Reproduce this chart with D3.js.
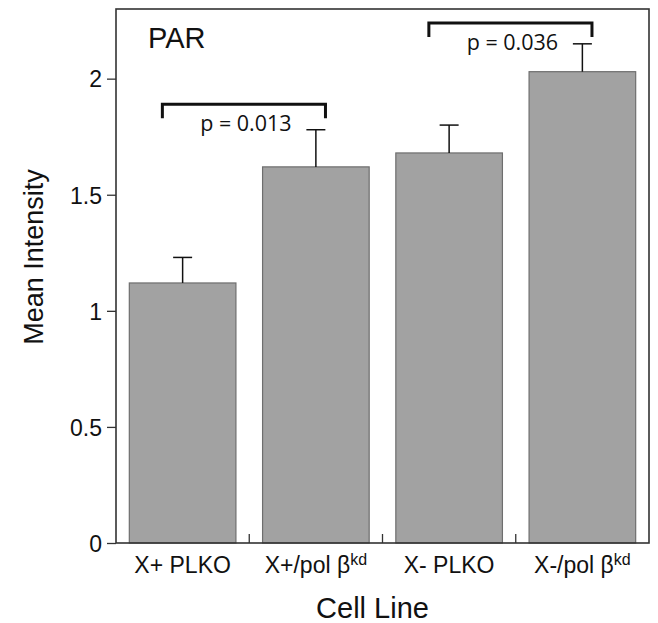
<!DOCTYPE html>
<html>
<head>
<meta charset="utf-8">
<script src="https://cdn.jsdelivr.net/npm/d3@7/dist/d3.min.js"></script>
<style>
  body { margin: 0; background: #fff; }
  svg { display: block; }
</style>
</head>
<body>
<svg id="chart" width="658" height="623"></svg>
<script>
// values
var cellLines = ["X+ PLKO", "X+/pol β", "X- PLKO", "X-/pol β"]
var superscripts = ["", "kd", "", "kd"]
var meanIntensity = [1.12, 1.62, 1.68, 2.03]
var errorTop = [1.23, 1.78, 1.80, 2.15]
var yTicks = [0, 0.5, 1, 1.5, 2]
// significance brackets: from bar, to bar, bracket level, label
var comparisons = [
  {from: 0, to: 1, level: 1.89, label: "p = 0.013"},
  {from: 2, to: 3, level: 2.24, label: "p = 0.036"}
]

var margin = {top: 9, right: 9, bottom: 80, left: 116}
var width = 658 - margin.left - margin.right
var height = 623 - margin.top - margin.bottom

var svg = d3.select("#chart")
var g = svg.append("g")
    .attr("transform", "translate(" + margin.left + "," + margin.top + ")")

var x = d3.scaleBand()
    .domain(cellLines)
    .range([0, width])
    .paddingInner(0.2)
    .paddingOuter(0.1)

var y = d3.scaleLinear()
    .domain([0, 2.3])
    .range([height, 0])

var font = "Liberation Sans, Arial, Helvetica, sans-serif"

/* bars */
g.selectAll(".bar")
    .data(meanIntensity)
  .enter().append("rect")
    .attr("class", "bar")
    .attr("x", function(d, i) { return x(cellLines[i]) })
    .attr("y", function(d) { return y(d) })
    .attr("width", x.bandwidth())
    .attr("height", function(d) { return y(0) - y(d) })
    .attr("fill", "#a2a2a2")
    .attr("stroke", "#6e6e6e")
    .attr("stroke-width", 1.2)

/* error bars (upper only) */
var err = g.selectAll(".err")
    .data(errorTop)
  .enter().append("g")
    .attr("class", "err")
    .attr("stroke", "#111")
    .attr("stroke-width", 1.5)
err.append("line")
    .attr("x1", function(d, i) { return x(cellLines[i]) + x.bandwidth() / 2 })
    .attr("x2", function(d, i) { return x(cellLines[i]) + x.bandwidth() / 2 })
    .attr("y1", function(d, i) { return y(meanIntensity[i]) })
    .attr("y2", function(d) { return y(d) })
err.append("line")
    .attr("x1", function(d, i) { return x(cellLines[i]) + x.bandwidth() / 2 - 9.5 })
    .attr("x2", function(d, i) { return x(cellLines[i]) + x.bandwidth() / 2 + 9.5 })
    .attr("y1", function(d) { return y(d) })
    .attr("y2", function(d) { return y(d) })

/* y axis */
var yAxis = d3.axisLeft(y)
    .tickValues(yTicks)
    .tickFormat(d3.format("~g"))
    .tickSize(9)
    .tickPadding(5)
var ya = g.append("g").call(yAxis)
ya.select(".domain").remove()
ya.selectAll(".tick line").attr("stroke", "#333").attr("stroke-width", 1.3)
ya.selectAll(".tick text")
    .attr("font-family", font)
    .attr("font-size", 23)
    .attr("fill", "#111")
    .attr("dy", "0.36em")

/* inner ticks between bars on the x axis */
g.selectAll(".xtick")
    .data(cellLines.slice(1))
  .enter().append("line")
    .attr("class", "xtick")
    .attr("x1", function(d) { return x(d) - x.step() * x.paddingInner() / 2 })
    .attr("x2", function(d) { return x(d) - x.step() * x.paddingInner() / 2 })
    .attr("y1", height)
    .attr("y2", height - 9)
    .attr("stroke", "#333")
    .attr("stroke-width", 1.3)

/* frame */
g.append("rect")
    .attr("width", width)
    .attr("height", height)
    .attr("fill", "none")
    .attr("stroke", "#333")
    .attr("stroke-width", 1.6)

/* x tick labels */
var xl = g.selectAll(".xlabel")
    .data(cellLines)
  .enter().append("text")
    .attr("class", "xlabel")
    .attr("x", function(d) { return x(d) + x.bandwidth() / 2 })
    .attr("y", height + 30)
    .attr("text-anchor", "middle")
    .attr("font-family", font)
    .attr("font-size", 23)
    .attr("fill", "#111")
xl.append("tspan").text(function(d) { return d })
xl.append("tspan")
    .attr("font-size", 16)
    .attr("dy", -8)
    .text(function(d, i) { return superscripts[i] })

/* axis titles */
g.append("text")
    .attr("x", width / 2 - 10)
    .attr("y", height + 75)
    .attr("text-anchor", "middle")
    .attr("font-family", font)
    .attr("font-size", 29)
    .attr("fill", "#111")
    .text("Cell Line")

g.append("text")
    .attr("transform", "translate(" + (43 - margin.left) + "," + (257 - margin.top) + ") rotate(-90)")
    .attr("text-anchor", "middle")
    .attr("font-family", font)
    .attr("font-size", 27)
    .attr("fill", "#111")
    .text("Mean Intensity")

g.append("text")
    .attr("x", 32)
    .attr("y", 39)
    .attr("font-family", font)
    .attr("font-size", 29)
    .attr("fill", "#111")
    .text("PAR")

/* significance brackets */
var br = g.selectAll(".bracket")
    .data(comparisons)
  .enter().append("g")
    .attr("class", "bracket")
br.append("path")
    .attr("d", function(d) {
      var x1 = x(cellLines[d.from]) + x.bandwidth() * 0.31
      var x2 = x(cellLines[d.to]) + x.bandwidth() * 0.59
      var yb = y(d.level)
      return "M" + x1 + "," + (yb + 14) + "V" + yb + "H" + x2 + "V" + (yb + 14)
    })
    .attr("fill", "none")
    .attr("stroke", "#111")
    .attr("stroke-width", 3)
br.append("text")
    .attr("x", function(d) {
      var x1 = x(cellLines[d.from]) + x.bandwidth() * 0.31
      var x2 = x(cellLines[d.to]) + x.bandwidth() * 0.59
      return (x1 + x2) / 2 + 2
    })
    .attr("y", function(d) { return y(d.level) + 27 })
    .attr("text-anchor", "middle")
    .attr("font-family", "Open Sans, sans-serif")
    .attr("font-size", 21.5)
    .attr("fill", "#111")
    .text(function(d) { return d.label })
</script>
</body>
</html>
